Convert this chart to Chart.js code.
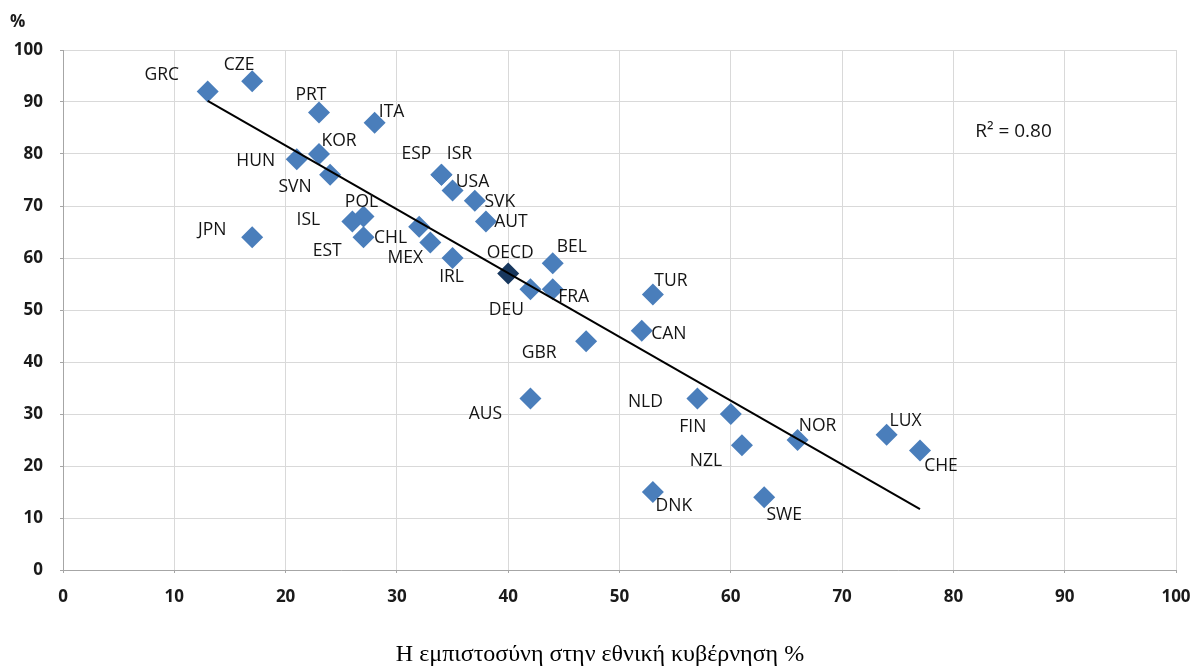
<!DOCTYPE html>
<html>
<head>
<meta charset="utf-8">
<script src="https://cdn.jsdelivr.net/npm/chart.js@4/dist/chart.umd.min.js"></script>
<style>
  html, body { margin: 0; padding: 0; background: #ffffff; }
  #wrap { position: relative; width: 1194px; height: 666px; }
</style>
</head>
<body>
<div id="wrap"><canvas id="c" width="1194" height="666"></canvas></div>
<script>
// ---- data ----
const countries = ["GRC","CZE","PRT","ITA","KOR","HUN","SVN","POL","ISL","CHL","EST","JPN","ESP","ISR","USA","SVK","AUT","MEX","IRL","BEL","DEU","FRA","TUR","CAN","GBR","AUS","NLD","FIN","NZL","NOR","LUX","CHE","DNK","SWE"];
const trustNationalGov = [13,17,23,28,23,21,24,27,26,27,32,17,34,34,35,37,38,33,35,44,42,44,53,52,47,42,57,60,61,66,74,77,53,63];
const yValues = [92,94,88,86,80,79,76,68,67,64,66,64,76,76,73,71,67,63,60,59,54,54,53,46,44,33,33,30,24,25,26,23,15,14];
const oecdPoint = { label: "OECD", x: 40, y: 57 };
const trendX = [13, 77];
const trendY = [90.2, 11.7];
const rSquaredText = "R\u00B2 = 0.80";
const xTicks = [0,10,20,30,40,50,60,70,80,90,100];
const yTicks = [0,10,20,30,40,50,60,70,80,90,100];
const xAxisTitle = "Η εμπιστοσύνη στην εθνική κυβέρνηση %";
const yAxisTitle = "%";

// ---- label placement (pixel offsets of label centre from marker) ----
const labelOffsets = {
  GRC:[-46,-17], CZE:[-13,-16], PRT:[-8,-17], ITA:[17,-11], KOR:[20,-13], HUN:[-41,2],
  SVN:[-35,12], POL:[-2,-14], ISL:[-44,-2], CHL:[27,1], EST:[-92,24], JPN:[-40,-7],
  ESP:[-25,-21], ISR:[18,-21], USA:[20,-8], SVK:[25,1], AUT:[25,0], MEX:[-25,16],
  IRL:[-1,19], BEL:[19,-16], DEU:[-24,21], FRA:[21,8], TUR:[18,-13], CAN:[27,3],
  GBR:[-47,12], AUS:[-45,16], NLD:[-52,4], FIN:[-38,13], NZL:[-36,16], NOR:[20,-14],
  LUX:[19,-14], CHE:[21,16], DNK:[21,14], SWE:[20,18], OECD:[2,-21]
};

const scatterData = countries.map((c, i) => ({ x: trustNationalGov[i], y: yValues[i] }));
const trendData = trendX.map((x, i) => ({ x: x, y: trendY[i] }));

const labelPlugin = {
  id: 'pointLabels',
  afterDatasetsDraw(chart) {
    const ctx = chart.ctx;
    ctx.save();
    ctx.font = '17.5px "Open Sans", sans-serif';
    ctx.fillStyle = '#141414';
    ctx.textAlign = 'center';
    ctx.textBaseline = 'middle';
    const m0 = chart.getDatasetMeta(1);
    countries.forEach((c, i) => {
      const el = m0.data[i];
      const off = labelOffsets[c] || [0, -16];
      ctx.fillText(c, el.x + off[0], el.y + off[1]);
    });
    const m1 = chart.getDatasetMeta(2);
    const e = m1.data[0];
    const o = labelOffsets.OECD;
    ctx.fillText(oecdPoint.label, e.x + o[0], e.y + o[1]);

    // R² annotation
    const xs = chart.scales.x, ys = chart.scales.y;
    ctx.font = '19px "Open Sans", sans-serif';
    ctx.fillText(rSquaredText, xs.getPixelForValue(85.4), ys.getPixelForValue(84.4));

    // y-axis unit "%"
    ctx.font = 'bold 17px "Open Sans", sans-serif';
    ctx.fillStyle = '#1a1a1a';
    ctx.textAlign = 'left';
    ctx.fillText(yAxisTitle, 10, 22);

    // x-axis title
    ctx.font = '24px "Liberation Serif", serif';
    ctx.fillStyle = '#000000';
    ctx.textAlign = 'center';
    ctx.fillText(xAxisTitle, 600, 655);
    ctx.restore();
  }
};

new Chart(document.getElementById('c'), {
  type: 'scatter',
  data: {
    datasets: [
      {
        type: 'line',
        label: 'trend',
        data: trendData,
        borderColor: '#000000',
        borderWidth: 2,
        pointRadius: 0,
        fill: false,
        order: 0
      },
      {
        label: 'countries',
        data: scatterData,
        pointStyle: 'rectRot',
        pointRadius: 11,
        backgroundColor: '#4a7ebb',
        borderColor: '#4a7ebb',
        borderWidth: 0,
        order: 1
      },
      {
        label: 'OECD',
        data: [{ x: oecdPoint.x, y: oecdPoint.y }],
        pointStyle: 'rectRot',
        pointRadius: 11,
        backgroundColor: '#17375e',
        borderColor: '#17375e',
        borderWidth: 0,
        order: 1
      }
    ]
  },
  options: {
    responsive: false,
    animation: false,
    events: [],
    layout: { padding: { top: 50, right: 18, left: 0, bottom: 0 } },
    plugins: { legend: { display: false }, tooltip: { enabled: false } },
    scales: {
      x: {
        type: 'linear',
        min: 0, max: 100,
        afterBuildTicks(scale) { scale.ticks = xTicks.map(v => ({ value: v })); },
        afterFit(scale) { scale.height = 96; scale.paddingLeft = 0; scale.paddingRight = 0; },
        grid: { color: '#d9d9d9', lineWidth: 1, drawTicks: true, tickLength: 3, tickColor: '#a6a6a6' },
        border: { color: '#a6a6a6', width: 1 },
        ticks: {
          padding: 14,
          color: '#1a1a1a',
          font: { family: '"Open Sans", sans-serif', size: 17, weight: 'bold' },
          maxRotation: 0
        }
      },
      y: {
        type: 'linear',
        min: 0, max: 100,
        afterBuildTicks(scale) { scale.ticks = yTicks.map(v => ({ value: v })); },
        afterFit(scale) { scale.width = 63; scale.paddingTop = 0; scale.paddingBottom = 0; },
        grid: { color: '#d9d9d9', lineWidth: 1, drawTicks: true, tickLength: 3, tickColor: '#a6a6a6' },
        border: { color: '#a6a6a6', width: 1 },
        ticks: {
          padding: 17,
          color: '#1a1a1a',
          font: { family: '"Open Sans", sans-serif', size: 17, weight: 'bold' }
        }
      }
    }
  },
  plugins: [labelPlugin]
});
</script>
</body>
</html>
